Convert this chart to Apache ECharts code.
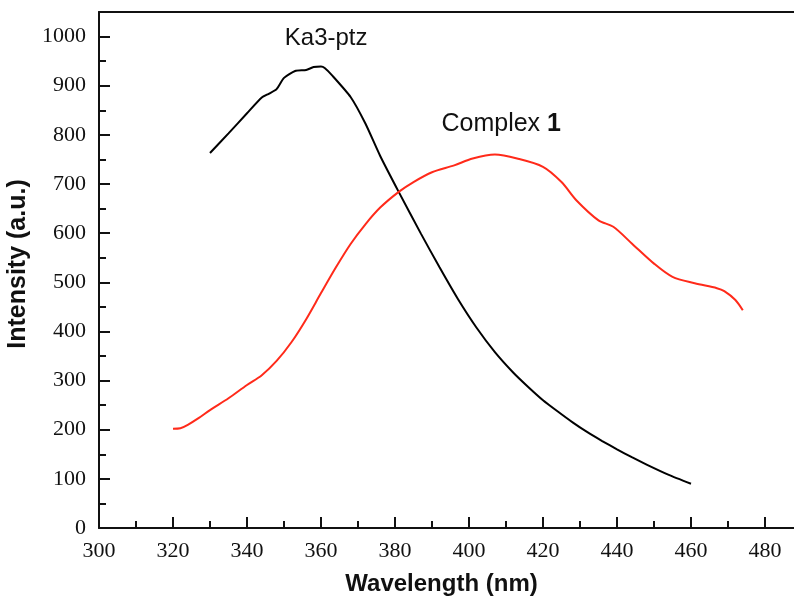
<!DOCTYPE html>
<html>
<head>
<meta charset="utf-8">
<script src="https://cdn.jsdelivr.net/npm/echarts@6/dist/echarts.min.js"></script>
<style>html,body{margin:0;padding:0;background:#fff;}#chart{width:794px;height:601px;}</style>
</head>
<body>
<div id="chart"></div>
<script>
// Ka3-ptz emission (black)
const ka3Wavelength = [330, 335, 340, 344, 346, 348, 350, 353, 356, 358, 360, 361, 363, 368, 372, 376, 381, 387, 392, 397, 402, 407, 412, 416, 420, 424, 428, 432, 436, 440, 444, 448, 454, 460];
const ka3Intensity  = [763, 803, 844, 876, 884, 893, 916, 930, 932, 938, 939, 936, 921, 877, 823, 757, 684, 599, 531, 466, 408, 358, 316, 287, 260, 237, 215, 195, 177, 160, 144, 129, 108, 90];

// Complex 1 emission (red)
const cx1Wavelength = [320, 322, 324, 327, 330, 335, 340, 344, 348, 352, 356, 360, 364, 368, 372, 376, 381, 385, 390, 396, 401, 407, 413, 420, 425, 429, 435, 439, 444, 450, 455, 461, 467, 469, 472, 474];
const cx1Intensity  = [202, 203, 210, 224, 240, 264, 291, 311, 340, 378, 425, 478, 530, 578, 618, 652, 684, 704, 724, 738, 752, 760, 752, 735, 704, 667, 626, 613, 579, 538, 511, 498, 488, 482, 464, 443];

const xTitle = 'Wavelength (nm)';
const yTitle = 'Intensity (a.u.)';
const labelKa3 = {text: 'Ka3-ptz', x: 361.4, y: 996};
const labelCx1 = {text: 'Complex ', bold: '1', x: 408.7, y: 821};

const zip = (a, b) => a.map((v, i) => [v, b[i]]);

const chart = echarts.init(document.getElementById('chart'), null, {renderer: 'canvas'});
const serif = 'Liberation Serif';
const sans = 'Liberation Sans';

chart.setOption({
  animation: false,
  grid: {left: 99, top: 12, width: 703, height: 516, show: false, containLabel: false, outerBoundsMode: 'none'},
  xAxis: [{
    type: 'value', min: 300, max: 490, interval: 20,
    name: xTitle, nameLocation: 'middle', nameGap: 44,
    nameTextStyle: {fontFamily: sans, fontWeight: 'bold', fontSize: 24, color: '#111', padding: [0, 18, 0, 0]},
    axisLine: {show: true, lineStyle: {color: '#111', width: 2}},
    axisTick: {show: true, inside: true, length: 11, lineStyle: {color: '#111', width: 2}},
    minorTick: {show: true, splitNumber: 2, length: 7, lineStyle: {color: '#111', width: 2}},
    axisLabel: {fontFamily: serif, fontSize: 22, color: '#111', margin: 12, showMaxLabel: false, formatter: v => String(v)},
    splitLine: {show: false}
  }, {
    type: 'value', position: 'top', min: 300, max: 490,
    axisLine: {show: true, onZero: false, lineStyle: {color: '#111', width: 2}},
    axisTick: {show: false}, axisLabel: {show: false}, splitLine: {show: false}
  }],
  yAxis: {
    type: 'value', min: 0, max: 1050, interval: 100,
    name: yTitle, nameLocation: 'middle', nameGap: 66,
    nameTextStyle: {fontFamily: sans, fontWeight: 'bold', fontSize: 25, color: '#111', padding: [0, 0, 0, 12]},
    axisLine: {show: true, lineStyle: {color: '#111', width: 2}},
    axisTick: {show: true, inside: true, length: 11, lineStyle: {color: '#111', width: 2}},
    minorTick: {show: true, splitNumber: 2, length: 7, lineStyle: {color: '#111', width: 2}},
    axisLabel: {fontFamily: serif, fontSize: 22, color: '#111', margin: 13, showMaxLabel: false, formatter: v => String(v)},
    splitLine: {show: false}
  },
  series: [
    {
      type: 'line', name: 'Ka3-ptz', data: zip(ka3Wavelength, ka3Intensity),
      showSymbol: false, smooth: 0.2, lineStyle: {color: '#000', width: 2}, itemStyle: {color: '#000'},
      markPoint: {
        symbol: 'circle', symbolSize: 1, itemStyle: {color: 'rgba(0,0,0,0)'},
        label: {show: true, position: 'inside', formatter: labelKa3.text, fontFamily: sans, fontSize: 24, color: '#111'},
        data: [{coord: [labelKa3.x, labelKa3.y]}]
      }
    },
    {
      type: 'line', name: 'Complex 1', data: zip(cx1Wavelength, cx1Intensity),
      showSymbol: false, smooth: 0.3, lineStyle: {color: '#ff2a1a', width: 2}, itemStyle: {color: '#ff2a1a'},
      markPoint: {
        symbol: 'circle', symbolSize: 1, itemStyle: {color: 'rgba(0,0,0,0)'},
        label: {
          show: true, position: 'inside',
          formatter: labelCx1.text + '{b|' + labelCx1.bold + '}',
          fontFamily: sans, fontSize: 25, color: '#111',
          rich: {b: {fontFamily: sans, fontSize: 25, fontWeight: 'bold', color: '#111'}}
        },
        data: [{coord: [labelCx1.x, labelCx1.y]}]
      }
    }
  ]
});
</script>
</body>
</html>
